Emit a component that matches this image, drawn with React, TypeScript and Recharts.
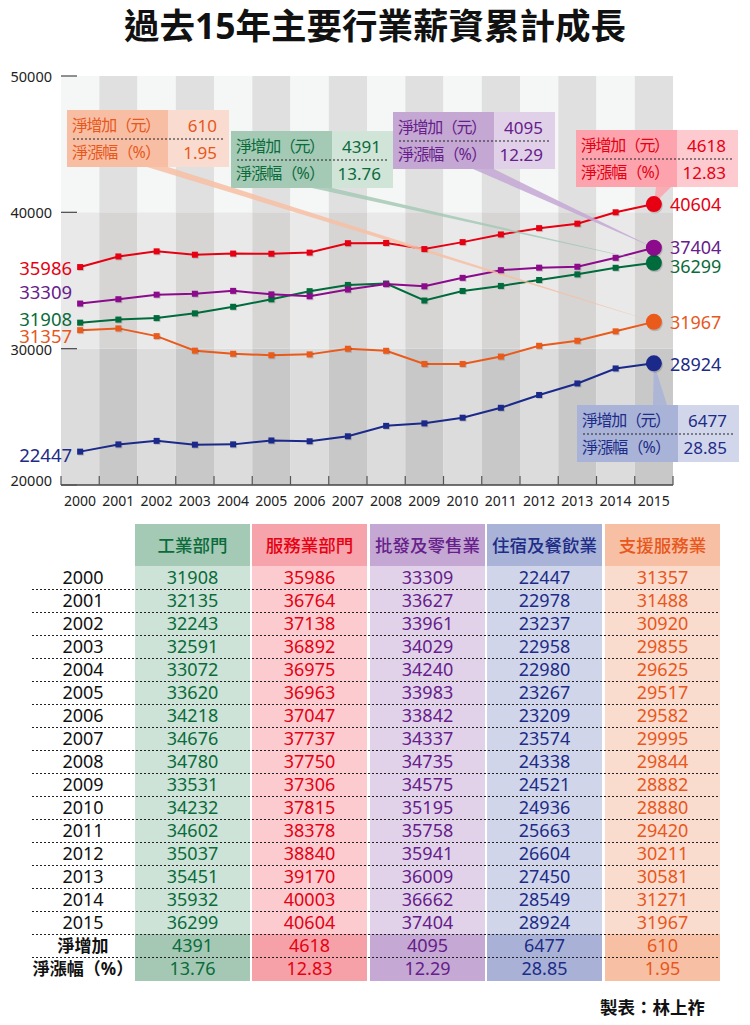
import { ComposedChart, Line, XAxis, YAxis, ReferenceArea } from "recharts";

const years = [2000, 2001, 2002, 2003, 2004, 2005, 2006, 2007, 2008, 2009, 2010, 2011, 2012, 2013, 2014, 2015];
const industry = [31908, 32135, 32243, 32591, 33072, 33620, 34218, 34676, 34780, 33531, 34232, 34602, 35037, 35451, 35932, 36299];
const services = [35986, 36764, 37138, 36892, 36975, 36963, 37047, 37737, 37750, 37306, 37815, 38378, 38840, 39170, 40003, 40604];
const wholesale = [33309, 33627, 33961, 34029, 34240, 33983, 33842, 34337, 34735, 34575, 35195, 35758, 35941, 36009, 36662, 37404];
const lodging = [22447, 22978, 23237, 22958, 22980, 23267, 23209, 23574, 24338, 24521, 24936, 25663, 26604, 27450, 28549, 28924];
const support = [31357, 31488, 30920, 29855, 29625, 29517, 29582, 29995, 29844, 28882, 28880, 29420, 30211, 30581, 31271, 31967];
const netIncrease = [4391, 4618, 4095, 6477, 610];
const netRate = ["13.76", "12.83", "12.29", "28.85", "1.95"];
const sectors = ["工業部門", "服務業部門", "批發及零售業", "住宿及餐飲業", "支援服務業"];
const yTicks = [20000, 30000, 40000, 50000];
const calloutLabels = ["淨增加（元）", "淨漲幅（%）"];
const summaryLabels = ["淨增加", "淨漲幅（%）"];

const FONT = '"Noto Sans", "Noto Sans CJK TC", sans-serif';
const PLOT_LEFT = 61;
const PLOT_RIGHT = 673;
const HALF_BAND = (PLOT_RIGHT - PLOT_LEFT) / years.length / 2;
const LAST = years.length - 1;

// zone shading: [light column, dark column] for each 10000 band, bottom to top
const zoneFills = [
  ["#dcdcdc", "#c8c8c8"],
  ["#e9e9e9", "#d6d5d4"],
  ["#f5f7f7", "#e0e0e0"],
];

type Series = {
  key: string;
  values: number[];
  line: string;
  text: string;
  head: string;
  cell: string;
  sum: string;
  box: [string, string];
  startDy: number;
  endDy: number;
  callout: { x: number; y: number };
  wedgeTop: boolean;
  wedgeBase: [number, number];
};

const SERIES: Series[] = [
  {
    key: "industry", values: industry, line: "#006b3c", text: "#0b6b3b",
    head: "#a4c9b5", cell: "#cde3d7", sum: "#a4c8b4", box: ["#a4c9b5", "#d0e4d8"],
    startDy: -4, endDy: 3, callout: { x: 231, y: 131 }, wedgeTop: false, wedgeBase: [-20, 0],
  },
  {
    key: "services", values: services, line: "#e60012", text: "#e60012",
    head: "#f6a3ab", cell: "#fbcbd0", sum: "#f6a1a8", box: ["#fca3ad", "#fdcad0"],
    startDy: 0, endDy: 0, callout: { x: 576, y: 130 }, wedgeTop: false, wedgeBase: [-21, -6],
  },
  {
    key: "wholesale", values: wholesale, line: "#8c0a8c", text: "#66208a",
    head: "#c5a7d3", cell: "#e1d2e9", sum: "#c5a8d3", box: ["#c4a7d3", "#e0d1e9"],
    startDy: -12, endDy: -1, callout: { x: 393, y: 112 }, wedgeTop: false, wedgeBase: [-21, 0],
  },
  {
    key: "lodging", values: lodging, line: "#1b2a8a", text: "#1d2c87",
    head: "#a9b3d7", cell: "#d0d5ea", sum: "#a9b2d6", box: ["#a9b3d8", "#d1d6eb"],
    startDy: 3, endDy: 1, callout: { x: 577, y: 405 }, wedgeTop: true, wedgeBase: [-25, -11],
  },
  {
    key: "support", values: support, line: "#ea5a1a", text: "#e8571b",
    head: "#f7c0a5", cell: "#fadccf", sum: "#f7c0a5", box: ["#f7bea3", "#f9dccf"],
    startDy: 5, endDy: 0, callout: { x: 67, y: 110 }, wedgeTop: false, wedgeBase: [-21, 0],
  },
];

const data = years.map((year, i) => ({
  year,
  industry: industry[i],
  services: services[i],
  wholesale: wholesale[i],
  lodging: lodging[i],
  support: support[i],
}));

const BOX_W = 162;
const BOX_SPLIT = 101;
const BOX_H = 57;

function Callout({ cx, cy, s, i }: { cx: number; cy: number; s: Series; i: number }) {
  const { x, y } = s.callout;
  const split = x + BOX_SPLIT;
  const edgeY = s.wedgeTop ? y : y + BOX_H;
  const pts = `${split + s.wedgeBase[0]},${edgeY} ${split + s.wedgeBase[1]},${edgeY} ${cx},${cy}`;
  return (
    <g>
      <polygon points={pts} fill={s.box[0]} fillOpacity={0.85} />
      <rect x={x} y={y} width={BOX_SPLIT} height={BOX_H} fill={s.box[0]} />
      <rect x={split} y={y} width={BOX_W - BOX_SPLIT} height={BOX_H} fill={s.box[1]} />
      <line x1={x + 6} x2={x + BOX_W - 6} y1={y + 29} y2={y + 29} stroke="#222" strokeDasharray="2 2" />
      {calloutLabels.map((l, r) => (
        <text
          key={l}
          x={x + 5}
          y={y + 15 + r * 27}
          dominantBaseline="central"
          fill={s.text}
          fontSize={16}
          textLength={89}
          lengthAdjust="spacing"
        >
          {l}
        </text>
      ))}
      <text x={x + 150} y={y + 15} dominantBaseline="central" textAnchor="end" fill={s.text} fontSize={17}>
        {netIncrease[i]}
      </text>
      <text x={x + 150} y={y + 42} dominantBaseline="central" textAnchor="end" fill={s.text} fontSize={17}>
        {netRate[i]}
      </text>
    </g>
  );
}

const calloutDot = (s: Series, i: number) => (p: any) => {
  if (p.index !== LAST) return <g key={`c${i}-${p.index}`} />;
  return <Callout key={`c${i}-${p.index}`} cx={p.cx} cy={p.cy} s={s} i={i} />;
};

const seriesDot = (s: Series) => (p: any) => {
  const { cx, cy, index } = p;
  const k = `${s.key}-${index}`;
  if (index === LAST) {
    return (
      <g key={k}>
        <circle cx={cx + 1} cy={cy + 1.5} r={8} fill="#000" opacity={0.15} />
        <circle cx={cx} cy={cy} r={8} fill={s.line} />
        <text x={cx + 16} y={cy + s.endDy} dominantBaseline="central" fill={s.text} fontSize={18}>
          {s.values[index]}
        </text>
      </g>
    );
  }
  return (
    <g key={k}>
      <rect x={cx - 2} y={cy - 2} width={6} height={6} fill="#000" opacity={0.15} />
      <rect x={cx - 3} y={cy - 3} width={6} height={6} fill={s.line} />
      {index === 0 && (
        <text x={cx - 8} y={cy + s.startDy} dominantBaseline="central" textAnchor="end" fill={s.text} fontSize={18.5}>
          {s.values[0]}
        </text>
      )}
    </g>
  );
};

const XTick = (p: any) => {
  const { x, y, payload, index } = p;
  return (
    <g>
      <line x1={x - HALF_BAND} x2={x - HALF_BAND} y1={y - 9} y2={y} stroke="#555" strokeWidth={1.2} />
      {index === LAST && (
        <line x1={x + HALF_BAND} x2={x + HALF_BAND} y1={y - 9} y2={y} stroke="#555" strokeWidth={1.2} />
      )}
      <text x={x} y={y + 15} textAnchor="middle" dominantBaseline="central" fill="#222" fontSize={14}>
        {payload.value}
      </text>
    </g>
  );
};

const YTick = (p: any) => {
  const { x, y, payload, index } = p;
  return (
    <g>
      <line x1={x + 9} x2={x + 25} y1={y} y2={y} stroke="#555" strokeWidth={1.3} />
      <text x={x} y={y - (index === 0 ? 5 : 0)} textAnchor="end" dominantBaseline="central" fill="#222" fontSize={14.5}>
        {payload.value}
      </text>
    </g>
  );
};

const COL_X = [135, 252, 370, 487, 605];
const COL_W = 115;
const HEAD_Y = 524;
const ROW0_Y = 566;
const ROW_H = 23;

function DataTable() {
  const sumY = ROW0_Y + years.length * ROW_H;
  const lines = [];
  for (let r = 1; r <= years.length + 1; r++) lines.push(ROW0_Y + r * ROW_H);
  const cellText = (top: number, h: number, content: any, left: number, w: number, color: string, extra: any = {}) => (
    <div
      style={{
        position: "absolute", left, top, width: w, height: h, lineHeight: `${h}px`,
        textAlign: "center", color, fontSize: 18, ...extra,
      }}
    >
      {content}
    </div>
  );
  return (
    <>
      {SERIES.map((s, c) => (
        <div key={s.key}>
          <div style={{ position: "absolute", left: COL_X[c], top: HEAD_Y, width: COL_W, height: ROW0_Y - HEAD_Y, background: s.head }} />
          <div style={{ position: "absolute", left: COL_X[c], top: ROW0_Y, width: COL_W, height: years.length * ROW_H, background: s.cell }} />
          <div style={{ position: "absolute", left: COL_X[c], top: sumY, width: COL_W, height: 2 * ROW_H + 1, background: s.sum }} />
          {cellText(HEAD_Y, ROW0_Y - HEAD_Y, sectors[c], COL_X[c], COL_W, s.text, { fontSize: 17.5, fontWeight: 500 })}
          {s.values.map((v, r) => (
            <div key={r}>{cellText(ROW0_Y + r * ROW_H, ROW_H, v, COL_X[c], COL_W, s.text)}</div>
          ))}
          {cellText(sumY, ROW_H, netIncrease[c], COL_X[c], COL_W, s.text)}
          {cellText(sumY + ROW_H, ROW_H, netRate[c], COL_X[c], COL_W, s.text)}
        </div>
      ))}
      {years.map((y, r) => (
        <div key={y}>{cellText(ROW0_Y + r * ROW_H, ROW_H, y, 33, 100, "#111")}</div>
      ))}
      {summaryLabels.map((l, r) => (
        <div key={l}>{cellText(sumY + r * ROW_H, ROW_H, l, 28, 110, "#111", { fontSize: 17, fontWeight: 700 })}</div>
      ))}
      {lines.map((ly) => (
        <div
          key={ly}
          style={{
            position: "absolute", left: 32, top: ly, width: 688, height: 1,
            backgroundImage: "linear-gradient(to right, #222 50%, rgba(0,0,0,0) 50%)",
            backgroundSize: "4px 1px",
          }}
        />
      ))}
    </>
  );
}

export default function App() {
  const zoneBounds = yTicks.slice(0, -1).map((t, z) => [t, yTicks[z + 1]]);
  return (
    <div style={{ position: "absolute", left: 0, top: 0, width: 750, height: 1025, background: "#fff", fontFamily: FONT }}>
      <div
        style={{
          position: "absolute", left: 0, top: 0, width: 750, height: 50, lineHeight: "50px",
          textAlign: "center", fontSize: 35.5, fontWeight: 700, color: "#111", zIndex: 2,
        }}
      >
        過去15年主要行業薪資累計成長
      </div>
      <div style={{ position: "absolute", left: 0, top: 0 }}>
        <ComposedChart
          width={750}
          height={515}
          data={data}
          margin={{ top: 76, right: 77, bottom: 0, left: 0 }}
          style={{ fontFamily: FONT }}
        >
          <XAxis
            dataKey="year"
            type="number"
            domain={[years[0] - 0.5, years[LAST] + 0.5]}
            ticks={years}
            interval={0}
            height={30}
            tickSize={0}
            tickMargin={0}
            tickLine={false}
            axisLine={{ stroke: "#444", strokeWidth: 1.5 }}
            tick={<XTick />}
          />
          <YAxis
            type="number"
            domain={[yTicks[0], yTicks[yTicks.length - 1]]}
            ticks={yTicks}
            width={PLOT_LEFT}
            tickSize={0}
            tickMargin={9}
            tickLine={false}
            axisLine={false}
            tick={<YTick />}
          />
          {zoneBounds.map(([lo, hi], z) =>
            years.map((yr, c) => (
              <ReferenceArea
                key={`z${z}-${yr}`}
                x1={yr - 0.5}
                x2={yr + 0.5}
                y1={lo}
                y2={hi}
                fill={zoneFills[z][c % 2]}
                fillOpacity={1}
                stroke="none"
              />
            ))
          )}
          {SERIES.map((s, i) => (
            <Line
              key={`callout-${s.key}`}
              dataKey={s.key}
              stroke="none"
              dot={calloutDot(s, i)}
              activeDot={false}
              legendType="none"
              isAnimationActive={false}
            />
          ))}
          {SERIES.map((s) => (
            <Line
              key={s.key}
              type="linear"
              dataKey={s.key}
              stroke={s.line}
              strokeWidth={2}
              dot={seriesDot(s)}
              activeDot={false}
              isAnimationActive={false}
            />
          ))}
        </ComposedChart>
      </div>
      <DataTable />
      <div
        style={{
          position: "absolute", left: 600, top: 994, fontSize: 17.5, fontWeight: 700, color: "#111",
        }}
      >
        製表：林上祚
      </div>
    </div>
  );
}
